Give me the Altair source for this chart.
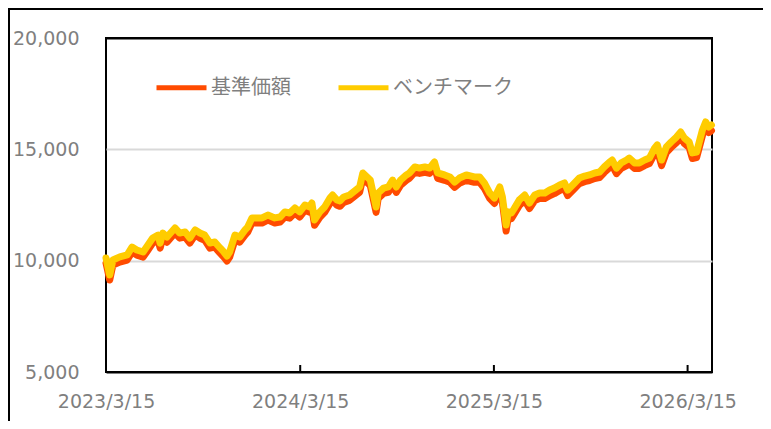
import altair as alt
import pandas as pd

# ---- data ----
dates = [
    "2023-03-15", "2023-03-22", "2023-03-28", "2023-04-10", "2023-04-24", "2023-05-03", "2023-05-12", "2023-05-24",
    "2023-06-02", "2023-06-11", "2023-06-21", "2023-06-25", "2023-06-30", "2023-07-08", "2023-07-23", "2023-08-01",
    "2023-08-11", "2023-08-20", "2023-08-30", "2023-09-08", "2023-09-17", "2023-09-27", "2023-10-06", "2023-10-16",
    "2023-10-23", "2023-10-29", "2023-11-03", "2023-11-13", "2023-11-22", "2023-12-02", "2023-12-07", "2023-12-15",
    "2023-12-26", "2024-01-03", "2024-01-14", "2024-01-27", "2024-02-06", "2024-02-15", "2024-02-24", "2024-03-05",
    "2024-03-14", "2024-03-24", "2024-04-02", "2024-04-06", "2024-04-11", "2024-04-21", "2024-04-30", "2024-05-10",
    "2024-05-15", "2024-05-23", "2024-05-29", "2024-06-05", "2024-06-16", "2024-07-05", "2024-07-11", "2024-07-25",
    "2024-08-05", "2024-08-09", "2024-08-19", "2024-08-28", "2024-09-05", "2024-09-12", "2024-09-20", "2024-10-01",
    "2024-10-07", "2024-10-17", "2024-10-26", "2024-11-05", "2024-11-14", "2024-11-23", "2024-11-29", "2024-12-12",
    "2024-12-22", "2024-12-31", "2025-01-09", "2025-01-22", "2025-02-06", "2025-02-16", "2025-02-25", "2025-03-07",
    "2025-03-16", "2025-03-26", "2025-03-31", "2025-04-07", "2025-04-11", "2025-04-17", "2025-04-23", "2025-05-02",
    "2025-05-12", "2025-05-21", "2025-05-31", "2025-06-09", "2025-06-19", "2025-06-28", "2025-07-07", "2025-07-17",
    "2025-07-26", "2025-08-01", "2025-08-14", "2025-08-23", "2025-09-02", "2025-09-11", "2025-09-21", "2025-09-30",
    "2025-10-09", "2025-10-19", "2025-10-24", "2025-11-01", "2025-11-10", "2025-11-20", "2025-11-25", "2025-12-05",
    "2025-12-14", "2025-12-24", "2026-01-02", "2026-01-12", "2026-01-17", "2026-01-25", "2026-02-03", "2026-02-12",
    "2026-02-22", "2026-03-02", "2026-03-09", "2026-03-18", "2026-03-24", "2026-04-01", "2026-04-06", "2026-04-12",
    "2026-04-18", "2026-04-24", "2026-04-29",
]

benchmark = [
    10120, 9360, 10030, 10170, 10260, 10610, 10480, 10390, 10700, 11020, 11150, 10790, 11240, 11060, 11470, 11240,
    11290, 11020, 11380, 11240, 11150, 10790, 10840, 10570, 10390, 10210, 10390, 11150, 11060, 11380, 11510, 11920,
    11920, 11920, 12050, 11920, 11960, 12190, 12140, 12370, 12190, 12500, 12410, 12590, 11830, 12190, 12410, 12810,
    12950, 12730, 12680, 12860, 12950, 13310, 13940, 13620, 12410, 13040, 13260, 13310, 13620, 13310, 13620, 13850,
    13940, 14210, 14160, 14210, 14160, 14430, 13940, 13850, 13760, 13530, 13710, 13850, 13760, 13760, 13490, 13040,
    12810, 13310, 12860, 11600, 12190, 12140, 12370, 12730, 12950, 12590, 12950, 13040, 13040, 13170, 13260, 13400,
    13490, 13170, 13490, 13710, 13800, 13850, 13940, 13980, 14210, 14430, 14520, 14160, 14390, 14520, 14610, 14390,
    14390, 14520, 14610, 15060, 15200, 14520, 15110, 15330, 15550, 15780, 15510, 15330, 14840, 14880, 15330, 15870,
    16230, 16000, 16090,
]

fund = [
    9890, 9130, 9800, 9940, 10030, 10380, 10250, 10160, 10470, 10790, 10920, 10560, 11010, 10830, 11240, 11010,
    11060, 10790, 11150, 11010, 10920, 10560, 10610, 10340, 10160, 9980, 10160, 10920, 10830, 11150, 11280, 11690,
    11690, 11690, 11820, 11690, 11730, 11960, 11910, 12140, 11960, 12260, 12170, 12350, 11590, 11950, 12170, 12570,
    12710, 12490, 12440, 12620, 12710, 13070, 13700, 13380, 12170, 12800, 13020, 13070, 13380, 13070, 13380, 13610,
    13700, 13970, 13920, 13970, 13920, 14190, 13700, 13610, 13520, 13290, 13470, 13610, 13520, 13520, 13250, 12800,
    12570, 13070, 12620, 11330, 11940, 11890, 12120, 12480, 12700, 12340, 12700, 12790, 12790, 12920, 13010, 13150,
    13240, 12920, 13240, 13460, 13550, 13600, 13690, 13730, 13960, 14180, 14270, 13910, 14140, 14270, 14360, 14140,
    14140, 14270, 14360, 14810, 14950, 14270, 14860, 15080, 15300, 15530, 15260, 15080, 14590, 14630, 15080, 15620,
    15980, 15750, 15840,
]

series_names = ["基準価額", "ベンチマーク"]
series_colors = ["#FF4B00", "#FFCC00"]
tick_dates = ["2023-03-15", "2024-03-15", "2025-03-15", "2026-03-15"]
x_start = "2023-03-15"
x_end = "2026-04-30"
y_ticks = [5000, 10000, 15000, 20000]
y_domain = [5000, 20000]

# ---- build tables ----
n = len(dates)
df = pd.DataFrame({
    "date": dates + dates,
    "value": fund + benchmark,
    "series": [series_names[0]] * n + [series_names[1]] * n,
})
ticks_df = pd.DataFrame({"date": tick_dates})


def dt(s):
    y, m, d = (int(p) for p in s.split("-"))
    return alt.DateTime(year=y, month=m, date=d, utc=True)


GRAY = "#7F7F7F"
W, H = 606, 334

x_scale = alt.Scale(type="utc", domain=[dt(x_start), dt(x_end)])

x_enc = alt.X(
    "date:T",
    scale=x_scale,
    axis=alt.Axis(
        values=[dt(s) for s in tick_dates],
        labelExpr="utcFormat(datum.value, '%Y/%-m/%d')",
        title=None,
        domain=False,
        ticks=False,
        tickSize=0,
        grid=False,
        labelFlush=False,
        labelOverlap=False,
        labelBound=False,
        labelPadding=20,
        labelFontSize=19,
        labelFont="DejaVu Sans",
        labelColor=GRAY,
    ),
)

y_enc = alt.Y(
    "value:Q",
    scale=alt.Scale(domain=y_domain, nice=False, zero=False),
    axis=alt.Axis(
        values=y_ticks,
        format=",.0f",
        title=None,
        domain=False,
        ticks=False,
        tickSize=0,
        grid=True,
        gridColor=alt.condition("datum.value == 5000 || datum.value == 20000",
                                alt.value("black"), alt.value("#D9D9D9")),
        gridWidth=2,
        labelPadding=27,
        labelFontSize=19,
        labelFont="DejaVu Sans",
        labelColor=GRAY,
    ),
)

color_enc = alt.Color(
    "series:N",
    scale=alt.Scale(domain=series_names, range=series_colors),
    legend=alt.Legend(
        title=None,
        orient="none",
        legendX=48,
        legendY=22,
        direction="horizontal",
        symbolType="stroke",
        symbolSize=2500,
        symbolStrokeWidth=5,
        labelFontSize=20,
        labelFont="Noto Sans CJK JP",
        labelColor=GRAY,
        labelOffset=2,
        columnPadding=37,
        padding=0,
    ),
)

base = alt.Chart(df).mark_line(strokeWidth=7, strokeJoin="round", strokeCap="round").encode(
    x=x_enc, y=y_enc, color=color_enc
)
fund_line = base.transform_filter(alt.datum.series == series_names[0])
bench_line = base.transform_filter(alt.datum.series == series_names[1])

tick_marks = alt.Chart(ticks_df).mark_rule(color="black", strokeWidth=2).encode(
    x=alt.X("date:T", scale=x_scale),
    y=alt.value(H),
    y2=alt.value(H - 7),
)

frame = alt.Chart(pd.DataFrame({"k": [0]})).mark_rect(
    fillOpacity=0, stroke="black", strokeWidth=2, clip=False
).encode(
    x=alt.value(-97), x2=alt.value(W + 200), y=alt.value(-29), y2=alt.value(H + 200)
)

chart = alt.layer(frame, fund_line, bench_line, tick_marks).properties(
    width=W,
    height=H,
    autosize="none",
    background="white",
    padding={"left": 98, "top": 30, "right": 51, "bottom": 49},
).configure_view(
    stroke="black", strokeWidth=2
)

chart.save("out.html", embed_options={"renderer": "svg", "actions": False})
